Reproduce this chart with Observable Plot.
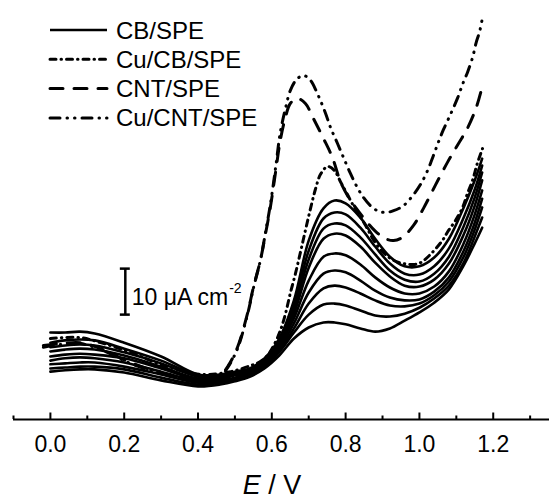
<!DOCTYPE html>
<html><head><meta charset="utf-8">
<script src="https://cdn.jsdelivr.net/npm/d3@7"></script>
<script src="https://cdn.jsdelivr.net/npm/@observablehq/plot@0.6"></script>
<style>body{margin:0;background:#fff} svg{display:block}</style>
</head><body><div id="chart"></div>
<script>
// ---- data (E in V, j in µA cm^-2, relative offset) ----
const potential = [0, 0.04, 0.08, 0.12, 0.2, 0.3, 0.4, 0.46, 0.5, 0.54, 0.58, 0.62, 0.66, 0.7, 0.74, 0.77, 0.8, 0.84, 0.88, 0.92, 0.96, 1.0, 1.04, 1.08, 1.12, 1.15, 1.17];
const cbCurrents = [
  [18.9, 18.9, 19.1, 18.7, 16.7, 13.7, 9.8, 9.8, 10.4, 11.1, 13.3, 17.6, 25.9, 38.9, 45.9, 47.6, 47.0, 43.9, 39.3, 35.4, 33.3, 33.3, 35.2, 39.3, 46.1, 52.0, 56.7],
  [16.7, 17.2, 17.4, 17.2, 15.4, 12.8, 9.6, 9.6, 10.2, 10.9, 13.0, 17.2, 24.8, 36.7, 43.7, 45.0, 44.6, 41.7, 37.6, 33.9, 31.7, 31.5, 33.3, 37.2, 43.9, 50.0, 55.2],
  [15.7, 16.1, 16.3, 16.1, 14.6, 12.2, 9.3, 9.3, 10.0, 10.7, 12.8, 16.7, 23.9, 34.8, 41.5, 42.6, 42.2, 39.6, 35.9, 32.4, 30.4, 30.0, 31.7, 35.4, 42.0, 48.3, 53.7],
  [14.8, 15.2, 15.4, 15.2, 13.9, 11.5, 8.9, 9.1, 9.8, 10.4, 12.6, 16.3, 23.0, 33.0, 39.3, 40.4, 40.0, 37.6, 34.1, 31.1, 29.1, 28.9, 30.4, 33.9, 40.2, 46.5, 52.0],
  [13.7, 14.1, 14.3, 14.1, 13.3, 11.1, 8.7, 8.7, 9.6, 10.2, 12.2, 15.9, 22.0, 30.2, 35.4, 36.1, 35.7, 33.7, 30.9, 28.7, 27.4, 27.4, 28.9, 32.2, 38.3, 44.6, 49.8],
  [12.8, 13.3, 13.5, 13.3, 12.4, 10.4, 8.3, 8.5, 9.1, 10.0, 12.0, 15.4, 20.9, 27.6, 31.7, 32.4, 32.0, 30.2, 28.0, 26.5, 25.9, 26.1, 27.8, 30.9, 36.7, 42.8, 48.0],
  [12.0, 12.2, 12.4, 12.4, 11.5, 9.8, 8.0, 8.3, 8.9, 9.8, 11.7, 15.0, 19.8, 25.2, 28.5, 29.1, 28.7, 27.4, 25.9, 24.8, 24.6, 25.2, 27.0, 30.0, 35.4, 41.3, 46.1],
  [11.1, 11.3, 11.5, 11.5, 10.9, 9.1, 7.6, 8.0, 8.7, 9.6, 11.5, 14.6, 18.9, 22.8, 25.0, 25.2, 24.8, 23.7, 22.6, 22.4, 23.0, 24.3, 26.3, 29.1, 34.1, 39.8, 43.9],
  [10.4, 10.7, 10.9, 10.9, 10.2, 8.5, 7.2, 7.6, 8.3, 9.3, 11.1, 13.9, 17.6, 20.0, 21.1, 21.1, 20.7, 19.8, 19.1, 19.8, 21.5, 23.3, 25.4, 28.3, 33.5, 38.3, 41.7]
];
const cuCbPotential = [0, 0.081, 0.136, 0.217, 0.298, 0.407, 0.488, 0.542, 0.569, 0.588, 0.604, 0.623, 0.637, 0.65, 0.664, 0.678, 0.691, 0.705, 0.718, 0.732, 0.751, 0.77, 0.786, 0.805, 0.821, 0.84, 0.859, 0.875, 0.902, 0.93, 0.957, 0.984, 1.003, 1.03, 1.062, 1.079, 1.098, 1.117, 1.13, 1.144, 1.157, 1.171];
const cuCbCurrent = [17.6, 17.8, 16.7, 14.6, 12.0, 9.8, 10.4, 11.7, 12.6, 13.9, 15.9, 19.3, 23.0, 27.4, 31.7, 36.5, 41.1, 45.9, 50.0, 53.3, 55.0, 54.1, 51.7, 48.9, 46.5, 44.1, 41.5, 39.1, 36.3, 34.6, 33.9, 33.7, 34.1, 35.9, 38.9, 41.1, 43.3, 46.1, 49.1, 52.0, 55.7, 58.9];
const cntPotential = [-0.019, 0.027, 0.081, 0.136, 0.217, 0.298, 0.379, 0.434, 0.461, 0.482, 0.507, 0.534, 0.55, 0.569, 0.583, 0.596, 0.61, 0.623, 0.637, 0.65, 0.669, 0.691, 0.713, 0.74, 0.764, 0.786, 0.805, 0.827, 0.854, 0.881, 0.908, 0.93, 0.954, 0.984, 1.011, 1.043, 1.076, 1.106, 1.13, 1.154, 1.171];
const cntCurrent = [16.1, 16.5, 16.7, 15.4, 12.4, 10.2, 8.9, 8.7, 9.6, 11.7, 15.7, 23.0, 28.7, 34.6, 40.4, 46.1, 53.7, 60.7, 65.7, 68.7, 69.8, 68.7, 65.4, 61.1, 57.0, 51.7, 48.7, 46.1, 43.3, 40.9, 39.3, 38.9, 39.6, 42.2, 45.9, 50.9, 55.9, 60.0, 63.3, 67.8, 72.6];
const cuCntPotential = [-0.019, 0.027, 0.081, 0.136, 0.217, 0.298, 0.379, 0.434, 0.461, 0.482, 0.507, 0.534, 0.55, 0.569, 0.583, 0.596, 0.61, 0.623, 0.637, 0.65, 0.667, 0.686, 0.705, 0.721, 0.745, 0.759, 0.778, 0.794, 0.813, 0.832, 0.848, 0.867, 0.886, 0.908, 0.93, 0.957, 0.984, 1.003, 1.022, 1.038, 1.051, 1.065, 1.084, 1.103, 1.119, 1.13, 1.144, 1.154, 1.163, 1.171];
const cuCntCurrent = [15.7, 16.3, 16.5, 15.2, 12.2, 10.0, 8.7, 8.5, 9.3, 11.5, 15.4, 22.8, 28.5, 34.6, 40.7, 46.7, 54.6, 62.4, 67.6, 71.5, 73.9, 74.8, 73.7, 71.3, 66.7, 63.5, 60.0, 57.0, 53.5, 50.4, 48.3, 46.5, 45.4, 45.0, 45.4, 46.5, 48.9, 51.1, 54.1, 57.4, 60.2, 63.0, 66.3, 69.8, 73.3, 75.4, 78.7, 82.0, 84.3, 87.4];

const seriesLabels = ["CB/SPE", "Cu/CB/SPE", "CNT/SPE", "Cu/CNT/SPE"];
const xTicks = [0, 0.2, 0.4, 0.6, 0.8, 1.0, 1.2];
const xMinorTicks = [-0.1, 0.1, 0.3, 0.5, 0.7, 0.9, 1.1, 1.3];
const scaleBarPotential = 0.203;
const scaleBarFrom = 22.8;
const scaleBarLength = 10;

// ---- styles ----
const dashes = [null, "6,5,0.5,5", "13,11", "10,7,0.5,7,0.5,7"];
const widths = [2.6, 3, 3, 3];
const font = "'Liberation Sans', Arial, Helvetica, sans-serif";

const cbRows = cbCurrents.flatMap((s, k) => s.map((j, i) => ({E: potential[i], j, scan: k})));
const pairs = (xs, ys) => xs.map((E, i) => ({E, j: ys[i]}));

const dashedLine = (rows, k) => Plot.line(rows, {
  x: "E", y: "j", stroke: "black", strokeWidth: widths[k],
  strokeDasharray: dashes[k], strokeLinecap: "round", curve: "catmull-rom"
});

const plot = Plot.plot({
  width: 549, height: 499,
  marginLeft: 13, marginRight: 0, marginTop: 0, marginBottom: 80,
  style: {fontFamily: font, fontSize: "23px", background: "white", color: "black", overflow: "visible"},
  x: {domain: [-0.1, 1.3525], label: null},
  y: {domain: [0, 91.09], axis: null, label: null},
  marks: [
    Plot.ruleY([0], {strokeWidth: 2}),
    Plot.axisX({ticks: xMinorTicks, tickSize: -3.5, strokeWidth: 2, tickFormat: () => "", label: null}),
    Plot.axisX({ticks: xTicks, tickSize: -6.5, tickPadding: 22.5, strokeWidth: 2, tickFormat: d3.format(".1f"), fontSize: 23, label: null}),
    Plot.line(cbRows, {x: "E", y: "j", z: "scan", stroke: "black", strokeWidth: widths[0], curve: "catmull-rom"}),
    dashedLine(pairs(cuCbPotential, cuCbCurrent), 1),
    dashedLine(pairs(cntPotential, cntCurrent), 2),
    dashedLine(pairs(cuCntPotential, cuCntCurrent), 3),
    Plot.ruleX([scaleBarPotential], {x: d => d, y1: scaleBarFrom, y2: scaleBarFrom + scaleBarLength, strokeWidth: 2.5}),
    Plot.ruleY([scaleBarFrom, scaleBarFrom + scaleBarLength], {y: d => d, x1: scaleBarPotential - 0.0135, x2: scaleBarPotential + 0.0135, strokeWidth: 2.5})
  ]
});
document.getElementById("chart").appendChild(plot);

const svg = d3.select(plot);
const sx = plot.scale("x"), sy = plot.scale("y");

// scale bar label
const lab = svg.append("text")
  .attr("x", sx.apply(scaleBarPotential) + 7)
  .attr("y", sy.apply(scaleBarFrom) - 9)
  .attr("text-anchor", "start")
  .attr("font-family", font).attr("font-size", 23).attr("fill", "black");
lab.append("tspan").text("10 \u03BCA cm");
lab.append("tspan").attr("font-size", 14).attr("dy", -12).attr("dx", 1).text("-2");

// legend
seriesLabels.forEach((label, k) => {
  const y = 30 + 29.3 * k;
  svg.append("line").attr("x1", 50).attr("x2", 107).attr("y1", y).attr("y2", y)
    .attr("stroke", "black").attr("stroke-width", widths[k])
    .attr("stroke-dasharray", dashes[k]).attr("stroke-linecap", dashes[k] ? "round" : "butt");
  svg.append("text").attr("x", 116).attr("y", y + 8.5).attr("text-anchor", "start")
    .attr("font-family", font).attr("font-size", 24).attr("fill", "black").text(label);
});

// axis title
const title = svg.append("text").attr("x", 272).attr("y", 494).attr("text-anchor", "middle")
  .attr("font-family", font).attr("font-size", 27).attr("fill", "black");
title.append("tspan").attr("font-style", "italic").text("E");
title.append("tspan").text(" / V");
</script>
</body></html>
